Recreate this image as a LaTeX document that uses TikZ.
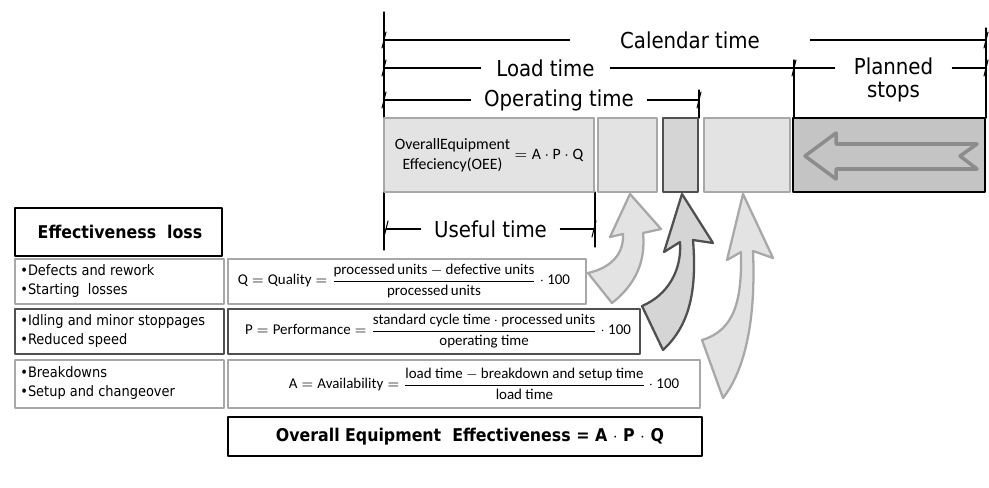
\documentclass[tikz,border=0pt]{standalone}
\usepackage{amsmath}
\usepackage{fontspec}
\setmainfont{Carlito}
\newfontfamily\tahoma{DejaVu Sans Condensed}
\usetikzlibrary{positioning}
\definecolor{barfill}{HTML}{E3E3E3}
\definecolor{barline}{HTML}{A8A8A8}
\definecolor{darkline}{HTML}{505050}
\definecolor{stopfill}{HTML}{C4C4C4}
\definecolor{stoparrow}{HTML}{8C8C8C}

\begin{document}
\begin{tikzpicture}[x=0.02cm,y=-0.02cm,line cap=round,line join=round,
  dim/.style={line width=0.6pt},
  timelbl/.style={font=\tahoma\fontsize{12.5}{14}\selectfont,inner sep=0pt},
  bar/.style={draw=barline,fill=barfill,line width=1.5pt},
  bullets/.style={font=\tahoma\fontsize{8.2}{11}\selectfont,align=left,anchor=west,inner sep=0pt},
  formula/.style={font=\fontsize{8.5}{10}\selectfont,inner sep=0pt},
  headbox/.style={font=\tahoma\bfseries\fontsize{10}{12}\selectfont,inner sep=0pt},
  bendarrow/.style={fill=barfill,draw=barline,line width=1.3pt},
  dimtick/.pic={\draw[dim] (-2,8) -- (2,-8);}]

\useasboundingbox (0,0) rectangle (989,487);

% time scale
\coordinate (calL) at (384,40);  \coordinate (calR) at (986,40);
\coordinate (loadL) at (384,68); \coordinate (loadR) at (794,68);
\coordinate (planR) at (986,68);
\coordinate (opL) at (384,100);  \coordinate (opR) at (699,100);
\coordinate (useL) at (386,229); \coordinate (useR) at (594,229);

\node[timelbl,minimum width=4.8cm] (cal) at (690,40) {Calendar time};
\node[timelbl,minimum width=2.58cm] (load) at (545.5,68) {Load time};
\node[timelbl,minimum width=2.34cm] (plan) at (893.5,66) {Planned};
\node[timelbl,below=4pt of plan] (stops) {stops};
\node[timelbl,minimum width=3.52cm] (op) at (559,100) {Operating time};
\node[timelbl,minimum width=2.78cm] (use) at (490.5,229) {Useful time};

\draw[dim] (calL) -- (cal) -- (calR);
\draw[dim] (loadL) -- (load) -- (loadR) -- (plan.west |- loadR);
\draw[dim] (plan.east |- planR) -- (planR);
\draw[dim] (opL) -- (op) -- (opR);
\draw[dim] (useL) -- (use) -- (useR);

\draw[dim] (384,12) -- (384,118) (384,192) -- (384,250);
\draw[dim] (595,192) -- (595,247);
\draw[dim] (986,28) -- (986,118);
\draw[dim] (794,60) -- (794,118);
\draw[dim] (699,90) -- (699,118);

\foreach \p in {calL,calR,loadL,loadR,planR,opL,opR,useL,useR}
  \pic at (\p) {dimtick};

% bars
\draw[bar] (384,118) rectangle (594,192);
\draw[bar] (598,118) rectangle (657,192);
\draw[bar,draw=darkline,fill=barfill!94!black] (663,118) rectangle (698,192);
\draw[bar] (704,118) rectangle (790,192);
\draw[line width=1.5pt,fill=stopfill] (793,118) rectangle (985,192);
\draw[line width=2pt,draw=stoparrow,fill=stopfill]
  (805,156) -- (836,133) -- (836,144) -- (977,144) -- (960,156)
  -- (977,169) -- (836,169) -- (836,179) -- cycle;

\node[font=\fontsize{9}{10}\selectfont,inner sep=0pt] (oee) at (489,156)
  {$\begin{array}{@{}c@{}}\text{OverallEquipment}\\[1pt]\text{Effeciency(OEE)}\end{array}
   = \text{A}\cdot\text{P}\cdot\text{Q}$};

% curved arrows
\draw[bendarrow] (630,194) -- (661,229) -- (643,233)
  .. controls (646,262) and (635,285) .. (612,303) -- (588,273)
  .. controls (610,268) and (624,255) .. (623,234) -- (610,237) -- cycle;
\draw[bendarrow,draw=darkline,fill=barfill!94!black] (682,194) -- (713,243) -- (693,240)
  .. controls (697,290) and (690,325) .. (663,350) -- (642,306)
  .. controls (668,295) and (682,270) .. (680,242) -- (664,252) -- cycle;
\draw[bendarrow] (743,194) -- (773,258) -- (753,251)
  .. controls (756,320) and (745,370) .. (723,398) -- (702,340)
  .. controls (735,330) and (742,300) .. (741,252) -- (727,260) -- cycle;

% effectiveness table
\draw[line width=1.6pt] (15,208) rectangle (222,256);
\node[headbox] (eff) at (120,232) {Effectiveness\ \ loss};

\draw[line width=1.5pt,draw=barline] (15,259) rectangle (224,304) (228,259) rectangle (586,304);
\draw[line width=1.5pt,draw=darkline] (15,309) rectangle (224,354) (228,309) rectangle (640,354);
\draw[line width=1.5pt,draw=barline] (15,360) rectangle (224,408) (228,360) rectangle (700,408);
\draw[line width=1.6pt] (228,417) rectangle (702,456);

\node[bullets] (qloss) at (20,281) {•Defects and rework\\•Starting\ \ losses};
\node[bullets] (ploss) at (20,331) {•Idling and minor stoppages\\•Reduced speed};
\node[bullets] (aloss) at (20,383) {•Breakdowns\\•Setup and changeover};

\node[formula] (qform) at (404,281)
  {$\text{Q} = \text{Quality} = \dfrac{\text{processed\,units} - \text{defective units}}{\text{processed\,units}}\cdot\text{100}$};
\node[formula] (pform) at (438,331)
  {$\text{P} = \text{Performance} = \dfrac{\text{standard cycle time}\cdot\text{processed\,units}}{\text{operating time}}\cdot\text{100}$};
\node[formula] (aform) at (484,384)
  {$\text{A} = \text{Availability} = \dfrac{\text{load time} - \text{breakdown and setup time}}{\text{load time}}\cdot\text{100}$};

\node[headbox] (total) at (470,437) {Overall Equipment\ \ Effectiveness = A $\cdot$ P $\cdot$ Q};
\end{tikzpicture}
\end{document}
